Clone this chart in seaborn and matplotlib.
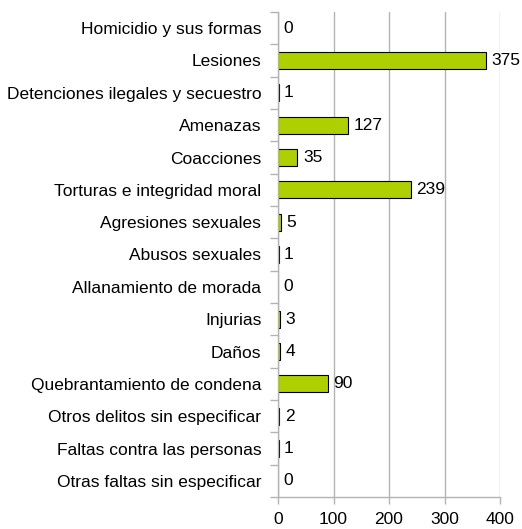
import matplotlib
matplotlib.use("Agg")
import matplotlib.pyplot as plt
import seaborn as sns
import numpy as np
import pandas as pd

categories = [
    "Homicidio y sus formas",
    "Lesiones",
    "Detenciones ilegales y secuestro",
    "Amenazas",
    "Coacciones",
    "Torturas e integridad moral",
    "Agresiones sexuales",
    "Abusos sexuales",
    "Allanamiento de morada",
    "Injurias",
    "Daños",
    "Quebrantamiento de condena",
    "Otros delitos sin especificar",
    "Faltas contra las personas",
    "Otras faltas sin especificar",
]
values = [0, 375, 1, 127, 35, 239, 5, 1, 0, 3, 4, 90, 2, 1, 0]
xticks = [0, 100, 200, 300, 400]

df = pd.DataFrame({"cat": categories, "val": values})

sns.set_style("white")
plt.rcParams["font.family"] = ["Liberation Sans", "DejaVu Sans"]
plt.rcParams["text.color"] = "black"
fs = 12.5

fig = plt.figure(figsize=(5.22, 5.29), dpi=100)
ax = fig.add_axes([278 / 522, 1 - 497 / 529, 222 / 522, 485 / 529])

grey = "#b3b3b3"
sns.barplot(data=df, x="val", y="cat", orient="h", color="#afd000",
            saturation=1, edgecolor="black", linewidth=0.8, width=0.52, ax=ax)

for p, v in zip(ax.patches, values):
    if v == 0:
        p.set_linewidth(0)

ax.bar_label(ax.containers[0], labels=[str(v) for v in values], padding=4,
             fontsize=fs, color="black")

ax.set_xlim(0, 400)
ax.set_ylim(len(categories) - 0.5, -0.5)
ax.set_xticks(xticks)
ax.set_xlabel("")
ax.set_ylabel("")
ax.xaxis.grid(True, color=grey, linewidth=1)
ax.set_axisbelow(True)

for s in ["top", "right"]:
    ax.spines[s].set_visible(False)
for s in ["left", "bottom"]:
    ax.spines[s].set_color(grey)
    ax.spines[s].set_linewidth(1)

ax.tick_params(axis="y", which="major", left=False, length=0, pad=12,
               labelsize=fs, labelcolor="black")
ax.set_yticks(np.arange(-0.5, len(categories), 1), minor=True)
ax.tick_params(axis="y", which="minor", left=True, length=6, color=grey,
               width=1)
ax.tick_params(axis="x", bottom=True, length=5, color=grey, width=1, pad=5.5,
               labelsize=fs, labelcolor="black")

fig.savefig("out.png", dpi=100)
